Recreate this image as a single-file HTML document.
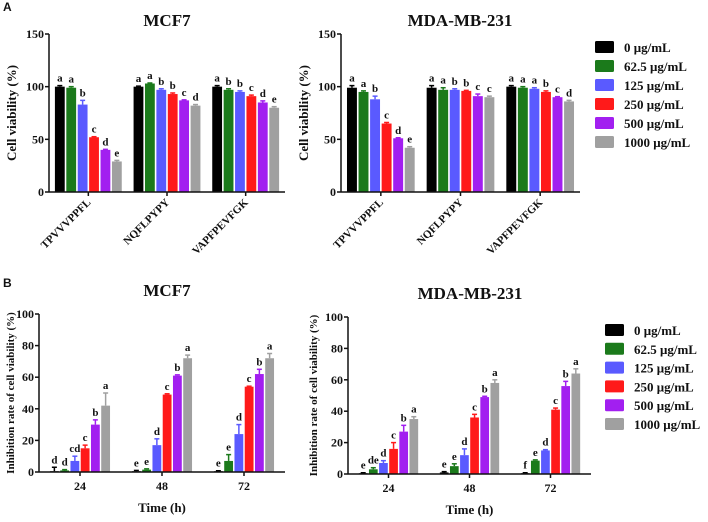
<!DOCTYPE html>
<html><head><meta charset="utf-8">
<style>
html,body{margin:0;padding:0;background:#fff;}
svg{display:block;}
text{font-family:"Liberation Serif",serif;font-weight:bold;fill:#111;}
.pl{font-family:"Liberation Sans",sans-serif;}
</style></head>
<body>
<svg id="fig" width="708" height="522" viewBox="0 0 708 522" xmlns="http://www.w3.org/2000/svg"></svg>
<script>
const colors = ["#000000","#1b7a1b","#5a5aff","#ff1a1a","#a21ff0","#a0a0a0"];
const legendLabels = ["0 μg/mL","62.5 μg/mL","125 μg/mL","250 μg/mL","500 μg/mL","1000 μg/mL"];
const peptides = ["TPVVVPPFL","NQFLPYPY","VAPFPEVFGK"];
const times = ["24","48","72"];
const ticksA = [0,50,100,150];
const ticksB = [0,20,40,60,80,100];

const aMcfVals = [[100,99,83,52,40,29],[100,103,97,93,87,82],[100,97,95,91,85,80]];
const aMcfErr = [[1,1,4,0.5,0.5,1],[0.5,0.5,1,1,0.5,1],[1,1,1,1,1.5,1]];
const aMcfLet = [["a","a","b","c","d","e"],["a","a","b","b","c","d"],["a","b","b","c","d","e"]];
const aMdaVals = [[99,95,88,65,51,42],[99,97,97,96,91,90],[100,99,98,95,90,86]];
const aMdaErr = [[2,1,3,1,0.5,1],[2,2,1,0.5,2,1],[1,1,1,1,0.5,1]];
const aMdaLet = [["a","a","b","c","d","e"],["a","a","b","b","c","c"],["a","a","a","b","c","d"]];
const bMcfVals = [[0.5,1,7,15,30,42],[0.5,1.5,17,49,61,72],[0.5,7,24,54,62,72]];
const bMcfErr = [[2.5,0.5,3,2,3,8],[0.5,0.5,4,0.5,0.5,2],[0.3,4,6,0.3,3,3]];
const bMcfLet = [["d","d","cd","c","b","a"],["e","e","d","c","b","a"],["e","e","d","c","b","a"]];
const bMdaVals = [[0.5,3,7,16,27,35],[1,5,12,36,49,58],[0.5,8.5,15,41,56,64]];
const bMdaErr = [[0.3,1,1.5,4,4,1.5],[0.5,1.5,4,2,0.5,2],[0.3,0.5,0.5,1,3,3]];
const bMdaLet = [["e","de","d","c","b","a"],["e","e","d","c","b","a"],["f","e","d","c","b","a"]];

const svg = document.getElementById('fig');
const NS = "http://www.w3.org/2000/svg";
function mk(tag, attrs, parent, txt){
  const e = document.createElementNS(NS, tag);
  for (const k in attrs) e.setAttribute(k, attrs[k]);
  if (txt !== undefined) e.textContent = txt;
  (parent||svg).appendChild(e);
  return e;
}

function panel(o){
  const g = mk('g', {});
  
  
  const y = v => o.y0 - (v/o.ymax)*(o.y0-o.y1);
  const band = (o.x1-o.x0)/o.cats.length;
  const step = band*o.stepF, bw = step*0.86;
  o.vals.forEach((grp, gi) => {
    const c = o.x0 + band*(gi+0.5);
    grp.forEach((v, si) => {
      const bx = c + (si-2.5)*step - bw/2;
      const r = mk('rect', {x:bx, y:y(v), width:bw, height:o.y0-y(v), fill:colors[si]}, g);
      
      
      const et = y(v + o.err[gi][si]);
      const cx = bx + bw/2;
      mk('line', {x1:cx, x2:cx, y1:y(v), y2:et, stroke:colors[si], 'stroke-width':1.5}, g);
      mk('line', {x1:cx-2.5, x2:cx+2.5, y1:et, y2:et, stroke:colors[si], 'stroke-width':1.5}, g);
      const t = mk('text', {x:cx, y:et-4, 'text-anchor':'middle', 'font-size':11}, g, o.lets[gi][si]);
      
      
    });
    mk('line', {x1:c, x2:c, y1:o.y0, y2:o.y0+4, stroke:'#111', 'stroke-width':1.5}, g);
    if (o.rot) {
      const t = mk('text', {x:c+3, y:o.y0+11, 'text-anchor':'end', 'font-size':11, transform:`rotate(-45 ${c+3} ${o.y0+11})`}, g, o.cats[gi]);
      
      
    } else {
      const t = mk('text', {x:c, y:o.y0+18, 'text-anchor':'middle', 'font-size':12}, g, o.cats[gi]);
      
      
    }
  });
  mk('line', {x1:o.x0, x2:o.x0, y1:o.y1, y2:o.y0, stroke:'#111', 'stroke-width':1.5}, g);
  mk('line', {x1:o.x0, x2:o.x1, y1:o.y0, y2:o.y0, stroke:'#111', 'stroke-width':1.5}, g);
  o.ticks.forEach(t => {
    mk('line', {x1:o.x0-4, x2:o.x0, y1:y(t), y2:y(t), stroke:'#111', 'stroke-width':1.5}, g);
    const l = mk('text', {x:o.x0-5, y:y(t)+4, 'text-anchor':'end', 'font-size':12}, g, t);
    
    
  });
  const tt = mk('text', {x:o.tx, y:o.ty, 'text-anchor':'middle', 'font-size':17}, g, o.title);
  
  
  const yc = (o.y0+o.y1)/2;
  const yt = mk('text', {x:o.yx, y:yc, 'text-anchor':'middle', 'font-size':o.ytSize, transform:`rotate(-90 ${o.yx} ${yc})`}, g, o.ytitle);
  
  
  if (o.xtitle) {
    const xt = mk('text', {x:(o.x0+o.x1)/2, y:o.xty, 'text-anchor':'middle', 'font-size':13}, g, o.xtitle);
    
    
  }
  if (o.leg) {
    legendLabels.forEach((lb, i) => {
      const ly = o.leg.y + i*o.leg.dy;
      const sw = mk('rect', {x:o.leg.x, y:ly-6, width:19, height:12, rx:1.5, fill:colors[i]}, g);
      
      
      const lt = mk('text', {x:o.leg.x+29, y:ly+5, 'font-size':13}, g, lb);
      
      
    });
  }
}

panel({name:'panel-a-mcf7', x0:49, x1:285, y0:192, y1:34, ymax:150, ticks:ticksA, cats:peptides, vals:aMcfVals, err:aMcfErr, lets:aMcfLet, stepF:0.145, rot:true, title:'MCF7', tx:167, ty:26, ytitle:'Cell viability (%)', yx:16, ytSize:13});
panel({name:'panel-a-mda', x0:341, x1:580, y0:192, y1:34, ymax:150, ticks:ticksA, cats:peptides, vals:aMdaVals, err:aMdaErr, lets:aMdaLet, stepF:0.145, rot:true, title:'MDA-MB-231', tx:460, ty:26, ytitle:'Cell viability (%)', yx:308, ytSize:13, leg:{x:595, y:47, dy:19}});
panel({name:'panel-b-mcf7', x0:39, x1:285, y0:472, y1:314, ymax:100, ticks:ticksB, cats:times, vals:bMcfVals, err:bMcfErr, lets:bMcfLet, stepF:0.125, rot:false, title:'MCF7', tx:167, ty:296, ytitle:'Inhibition rate of cell viability (%)', yx:14, ytSize:11, xtitle:'Time (h)', xty:512});
panel({name:'panel-b-mda', x0:348, x1:591, y0:474, y1:317, ymax:100, ticks:ticksB, cats:times, vals:bMdaVals, err:bMdaErr, lets:bMdaLet, stepF:0.125, rot:false, title:'MDA-MB-231', tx:470, ty:299, ytitle:'Inhibition rate of cell viability (%)', yx:317, ytSize:11, xtitle:'Time (h)', xty:514, leg:{x:605, y:330, dy:18.8}});

const la = mk('text', {x:3, y:11, 'font-size':12, class:'pl'}, svg, 'A');


const lb = mk('text', {x:3, y:287, 'font-size':12, class:'pl'}, svg, 'B');


</script>
</body></html>
